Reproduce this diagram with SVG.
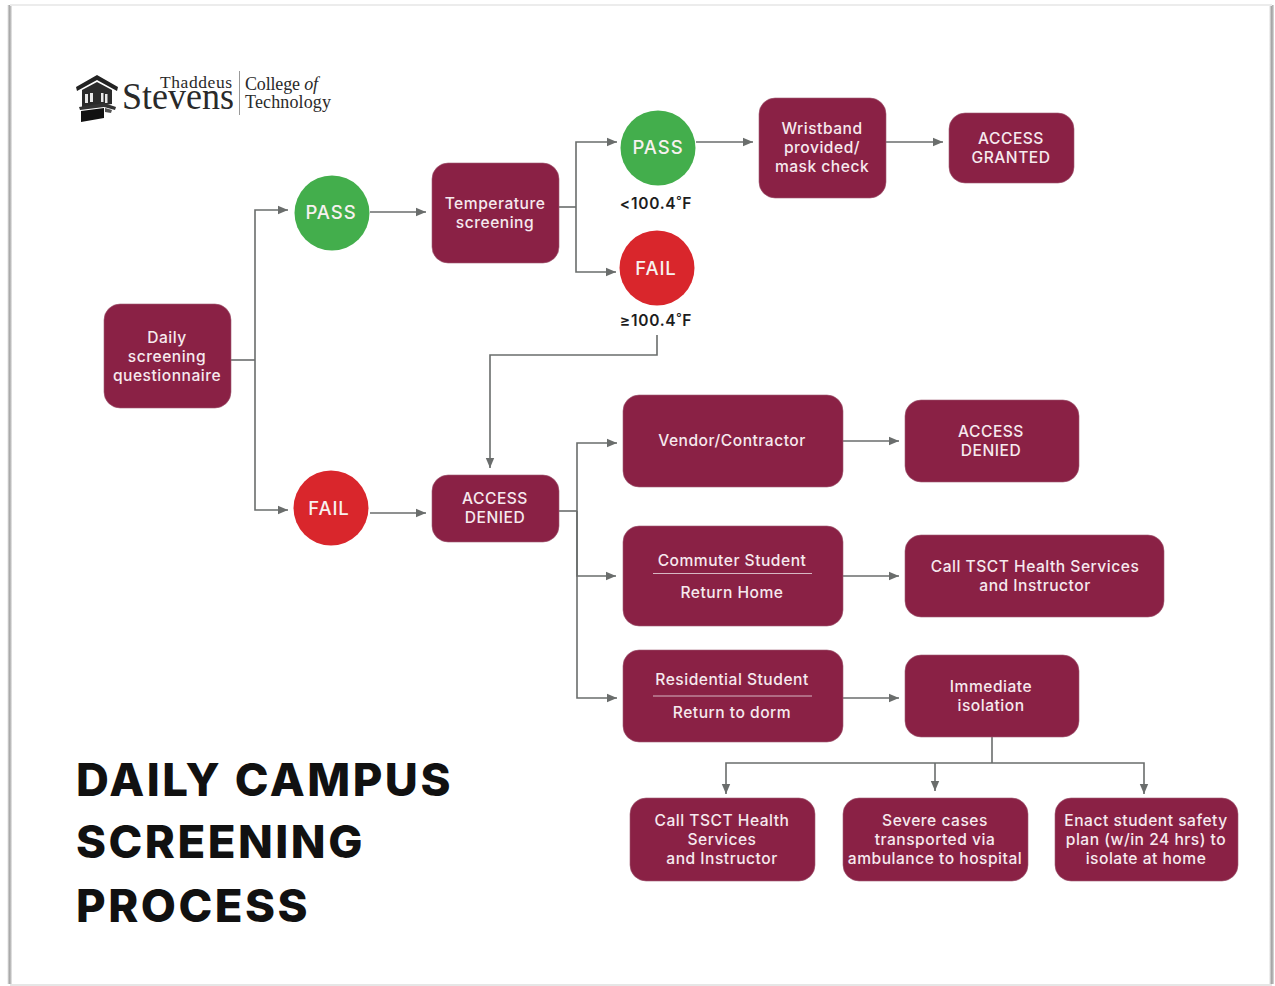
<svg xmlns="http://www.w3.org/2000/svg" width="1275" height="986" viewBox="0 0 1275 986">
<defs>
<marker id="arr" markerUnits="userSpaceOnUse" markerWidth="12" markerHeight="12" refX="10" refY="5" orient="auto"><path d="M0 0.8L10 5L0 9.2Z" fill="#6a6d6c"/></marker>
<linearGradient id="edgeL" x1="0" x2="1" y1="0" y2="0"><stop offset="0" stop-color="#e4e4e4"/><stop offset="0.45" stop-color="#a2a2a2"/><stop offset="1" stop-color="#fff"/></linearGradient>
<linearGradient id="edgeR" x1="0" x2="1" y1="0" y2="0"><stop offset="0" stop-color="#fff"/><stop offset="0.55" stop-color="#9d9d9d"/><stop offset="1" stop-color="#dedede"/></linearGradient>
</defs>
<style>
.box{fill:#8a2145;stroke:#a05a72;stroke-width:.6}
.t{font-family:Inter,"Noto Sans","Liberation Sans",sans-serif;font-size:15.6px;font-weight:500;fill:#f6e9ee;text-anchor:middle;letter-spacing:.5px}
.c{font-family:Inter,"Noto Sans","Liberation Sans",sans-serif;font-size:18.5px;font-weight:500;fill:#f7f1ef;text-anchor:middle;letter-spacing:.9px}
.v{font-family:Inter,"Noto Sans","Liberation Sans",sans-serif;font-size:15.5px;font-weight:600;fill:#1d1d1d;text-anchor:middle;letter-spacing:.7px}
.h{font-family:Inter,"Noto Sans","Liberation Sans",sans-serif;font-size:45.5px;font-weight:800;fill:#111;letter-spacing:2.5px}
.s{font-family:"Liberation Serif","Times New Roman",serif;fill:#2a2a2a}
.rule{stroke:#d7b7c3;stroke-width:1}
.cn{fill:none;stroke:#6a6d6c;stroke-width:1.6}
.ar{marker-end:url(#arr)}
</style>
<rect width="1275" height="986" fill="#fff"/>
<g id="page">
<rect x="7.500" y="5" width="5" height="979" fill="url(#edgeL)"/>
<rect x="1269" y="5" width="5" height="979" fill="url(#edgeR)"/>
<rect x="10" y="4" width="1262" height="2" fill="#ececec"/>
<rect x="10" y="984" width="1262" height="2" fill="#e6e6e6"/>
</g>
<g id="logo">
<path d="M76 87L97 75L118 87L117 91L97 80L77 91Z" fill="#222"/>
<path d="M82 90L97 82L112 90L112 104L105 105L105 106L82 109Z" fill="#2b2b2b"/>
<path d="M85 94h3v9h-3zM90 93h3v9h-3zM101 93h2.500v9h-2.500zM105 94h2.500v9h-2.500z" fill="#e8e8e8"/>
<path d="M79 107L104 103L116 107L115 110L104 107L80 110Z" fill="#333"/>
<path d="M81 111L104 108L104 118L81 122Z" fill="#111"/>
<path d="M105 108L112 110L111 113L105 112Z" fill="#555"/>
<text class="s" x="160" y="88" font-size="17.500" textLength="72">Thaddeus</text>
<text class="s" x="122" y="109" font-size="38" textLength="112" lengthAdjust="spacingAndGlyphs">Stevens</text>
<rect x="239" y="71" width="1" height="44" fill="#999"/>
<text class="s" x="245" y="90" font-size="18" textLength="73">College <tspan font-style="italic">of</tspan></text>
<text class="s" x="245" y="108" font-size="18" textLength="86">Technology</text>
</g>
<g id="connectors">
<path class="cn" d="M231 360H255"/>
<path class="cn ar" d="M255 360V210H288"/>
<path class="cn ar" d="M255 360V510H288"/>
<path class="cn ar" d="M370 212H426"/>
<path class="cn ar" d="M370 513H426"/>
<path class="cn" d="M559 207H576"/>
<path class="cn ar" d="M576 207V142H617"/>
<path class="cn ar" d="M576 207V272H616"/>
<path class="cn ar" d="M696 142H753"/>
<path class="cn ar" d="M886 142H943"/>
<path class="cn ar" d="M657 335V355H490V468"/>
<path class="cn" d="M559 511H577"/>
<path class="cn ar" d="M577 511V443H617"/>
<path class="cn ar" d="M577 511V576H616"/>
<path class="cn ar" d="M577 511V698H617"/>
<path class="cn ar" d="M843 441H899"/>
<path class="cn ar" d="M843 576H899"/>
<path class="cn ar" d="M843 698H899"/>
<path class="cn" d="M992 737V763"/>
<path class="cn ar" d="M992 763H726V794"/>
<path class="cn ar" d="M935 763V791"/>
<path class="cn ar" d="M992 763H1144V794"/>
</g>
<g id="n-questionnaire"><rect class="box" x="104" y="304" width="127" height="104" rx="16"/><text class="t" x="167" y="343">Daily</text><text class="t" x="167" y="362">screening</text><text class="t" x="167" y="381">questionnaire</text></g>
<g id="n-pass1"><circle cx="332" cy="213" r="37.500" fill="#43ae4c"/><text class="c" x="331" y="219">PASS</text></g>
<g id="n-fail1"><circle cx="331" cy="508" r="37.500" fill="#d9262c"/><text class="c" x="329" y="515">FAIL</text></g>
<g id="n-temp"><rect class="box" x="432" y="163" width="127" height="100" rx="16"/><text class="t" x="495" y="209">Temperature</text><text class="t" x="495" y="228">screening</text></g>
<g id="n-denied1"><rect class="box" x="432" y="475" width="127" height="67" rx="16"/><text class="t" x="495" y="504">ACCESS</text><text class="t" x="495" y="523">DENIED</text></g>
<g id="n-pass2"><circle cx="658" cy="148" r="37.500" fill="#43ae4c"/><text class="c" x="658" y="154">PASS</text></g>
<text class="v" x="656" y="209">&lt;100.4˚F</text>
<g id="n-fail2"><circle cx="657" cy="268" r="37.500" fill="#d9262c"/><text class="c" x="656" y="275">FAIL</text></g>
<text class="v" x="656" y="326">≥100.4˚F</text>
<g id="n-wristband"><rect class="box" x="759" y="98" width="127" height="100" rx="16"/><text class="t" x="822" y="134">Wristband</text><text class="t" x="822" y="153">provided/</text><text class="t" x="822" y="172">mask check</text></g>
<g id="n-granted"><rect class="box" x="949" y="113" width="125" height="70" rx="16"/><text class="t" x="1011" y="144">ACCESS</text><text class="t" x="1011" y="163">GRANTED</text></g>
<g id="n-vendor"><rect class="box" x="623" y="395" width="220" height="92" rx="16"/><text class="t" x="732" y="446">Vendor/Contractor</text></g>
<g id="n-denied2"><rect class="box" x="905" y="400" width="174" height="82" rx="16"/><text class="t" x="991" y="437">ACCESS</text><text class="t" x="991" y="456">DENIED</text></g>
<g id="n-commuter"><rect class="box" x="623" y="526" width="220" height="100" rx="16"/><text class="t" x="732" y="566">Commuter Student</text><line class="rule" x1="653" y1="573.500" x2="812" y2="573.500"/><text class="t" x="732" y="598">Return Home</text></g>
<g id="n-call1"><rect class="box" x="905" y="535" width="259" height="82" rx="16"/><text class="t" x="1035" y="572">Call TSCT Health Services</text><text class="t" x="1035" y="591">and Instructor</text></g>
<g id="n-residential"><rect class="box" x="623" y="650" width="220" height="92" rx="16"/><text class="t" x="732" y="685">Residential Student</text><line class="rule" x1="653" y1="696" x2="812" y2="696"/><text class="t" x="732" y="718">Return to dorm</text></g>
<g id="n-isolation"><rect class="box" x="905" y="655" width="174" height="82" rx="16"/><text class="t" x="991" y="692">Immediate</text><text class="t" x="991" y="711">isolation</text></g>
<g id="n-call2"><rect class="box" x="630" y="798" width="185" height="83" rx="16"/><text class="t" x="722" y="826">Call TSCT Health</text><text class="t" x="722" y="845">Services</text><text class="t" x="722" y="864">and Instructor</text></g>
<g id="n-severe"><rect class="box" x="843" y="798" width="185" height="83" rx="16"/><text class="t" x="935" y="826">Severe cases</text><text class="t" x="935" y="845">transported via</text><text class="t" x="935" y="864">ambulance to hospital</text></g>
<g id="n-enact"><rect class="box" x="1055" y="798" width="183" height="83" rx="16"/><text class="t" x="1146" y="826">Enact student safety</text><text class="t" x="1146" y="845">plan (w/in 24 hrs) to</text><text class="t" x="1146" y="864">isolate at home</text></g>
<g id="title"><text class="h" x="76" y="796">DAILY CAMPUS</text><text class="h" x="76" y="858">SCREENING</text><text class="h" x="76" y="922">PROCESS</text></g>
</svg>
